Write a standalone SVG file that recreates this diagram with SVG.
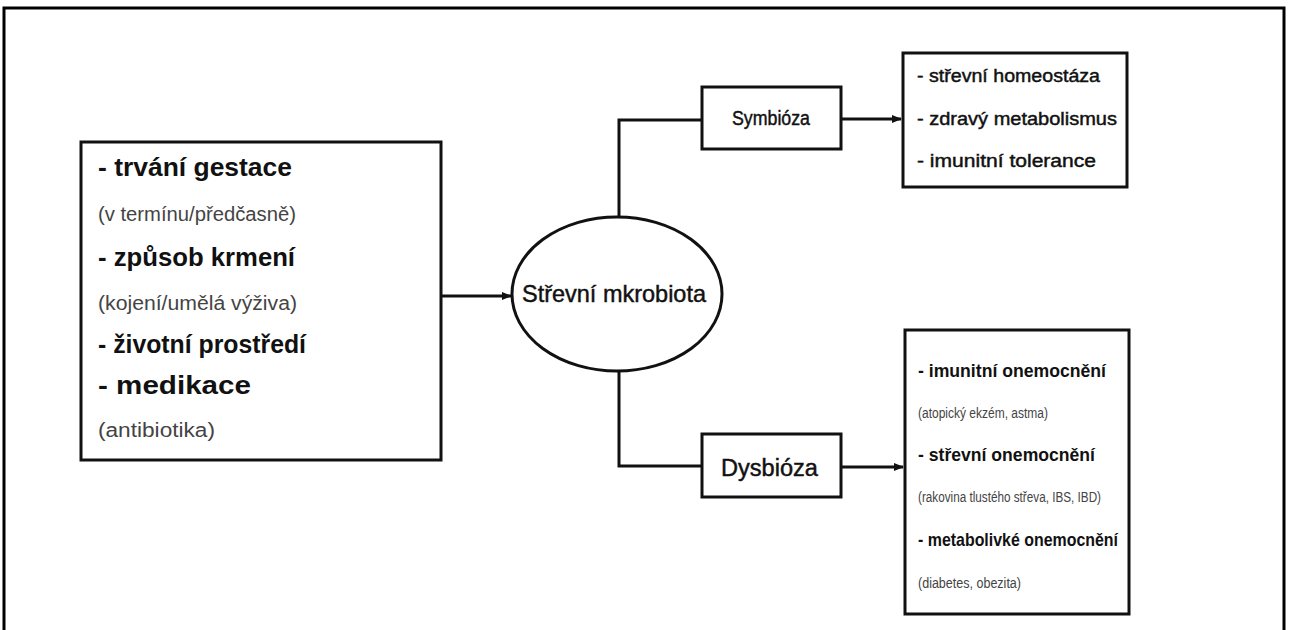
<svg xmlns="http://www.w3.org/2000/svg" width="1289" height="630" viewBox="0 0 1289 630">
<defs>
<marker id="arr" markerWidth="10" markerHeight="8" refX="9" refY="4" orient="auto" markerUnits="userSpaceOnUse">
<path d="M0,0 L10,4 L0,8 Z" fill="#111"/>
</marker>
<style>
.box{fill:#fff;stroke:#111;stroke-width:3}
.ln{fill:none;stroke:#111;stroke-width:3}
.b{font-family:"Liberation Sans",Arial,sans-serif;font-weight:bold;fill:#111}
.m{font-family:"Liberation Sans",Arial,sans-serif;fill:#111;stroke:#111;stroke-width:0.45}
.g{font-family:"Liberation Sans",Arial,sans-serif;fill:#444}
</style>
</defs>
<rect width="1289" height="630" fill="#fff"/>
<g id="frame">
<path d="M4,630 V8 H1284 V630" fill="none" stroke="#000" stroke-width="3"/>
</g>
<g id="connectors">
<line class="ln" x1="441" y1="296" x2="511" y2="296" marker-end="url(#arr)"/>
<polyline class="ln" points="619,217 619,120 702,120"/>
<line class="ln" x1="841" y1="119" x2="901" y2="119" marker-end="url(#arr)"/>
<polyline class="ln" points="619,370 619,466 702,466"/>
<line class="ln" x1="842" y1="467" x2="903" y2="467" marker-end="url(#arr)"/>
</g>
<g id="factors">
<rect class="box" x="81" y="142" width="360" height="318"/>
<text class="b" x="98" y="176" font-size="25" textLength="194" lengthAdjust="spacingAndGlyphs">- trvání gestace</text>
<text class="g" x="98" y="221" font-size="20" textLength="198" lengthAdjust="spacingAndGlyphs">(v termínu/předčasně)</text>
<text class="b" x="98" y="266" font-size="25" textLength="197" lengthAdjust="spacingAndGlyphs">- způsob krmení</text>
<text class="g" x="98" y="310" font-size="20" textLength="199" lengthAdjust="spacingAndGlyphs">(kojení/umělá výživa)</text>
<text class="b" x="98" y="353" font-size="25" textLength="208" lengthAdjust="spacingAndGlyphs">- životní prostředí</text>
<text class="b" x="98" y="394" font-size="25" textLength="153" lengthAdjust="spacingAndGlyphs">- medikace</text>
<text class="g" x="98" y="437" font-size="20" textLength="117" lengthAdjust="spacingAndGlyphs">(antibiotika)</text>
</g>
<g id="microbiota">
<ellipse class="box" cx="617" cy="294" rx="105" ry="77"/>
<text class="m" x="522" y="302" font-size="24" textLength="184" lengthAdjust="spacingAndGlyphs">Střevní mkrobiota</text>
</g>
<g id="symbioza">
<rect class="box" x="702" y="87" width="139" height="62"/>
<text class="m" x="732" y="125" font-size="20" textLength="78" lengthAdjust="spacingAndGlyphs">Symbióza</text>
</g>
<g id="symbioza-effects">
<rect class="box" x="903" y="53" width="224" height="134"/>
<text class="m" x="917" y="82" font-size="18" textLength="183" lengthAdjust="spacingAndGlyphs">- střevní homeostáza</text>
<text class="m" x="917" y="125" font-size="18" textLength="200" lengthAdjust="spacingAndGlyphs">- zdravý metabolismus</text>
<text class="m" x="917" y="167" font-size="18" textLength="179" lengthAdjust="spacingAndGlyphs">- imunitní tolerance</text>
</g>
<g id="dysbioza">
<rect class="box" x="702" y="434" width="139" height="63"/>
<text class="m" x="721" y="476" font-size="23" textLength="97" lengthAdjust="spacingAndGlyphs">Dysbióza</text>
</g>
<g id="dysbioza-effects">
<rect class="box" x="905" y="330" width="224" height="284"/>
<text class="b" x="918" y="377" font-size="19" textLength="188" lengthAdjust="spacingAndGlyphs">- imunitní onemocnění</text>
<text class="g" x="918" y="418" font-size="14" textLength="130" lengthAdjust="spacingAndGlyphs">(atopický ekzém, astma)</text>
<text class="b" x="918" y="461" font-size="19" textLength="177" lengthAdjust="spacingAndGlyphs">- střevní onemocnění</text>
<text class="g" x="918" y="502" font-size="14" textLength="183" lengthAdjust="spacingAndGlyphs">(rakovina tlustého střeva, IBS, IBD)</text>
<text class="b" x="918" y="546" font-size="19" textLength="200" lengthAdjust="spacingAndGlyphs">- metabolivké onemocnění</text>
<text class="g" x="918" y="588" font-size="14" textLength="103" lengthAdjust="spacingAndGlyphs">(diabetes, obezita)</text>
</g>
</svg>
